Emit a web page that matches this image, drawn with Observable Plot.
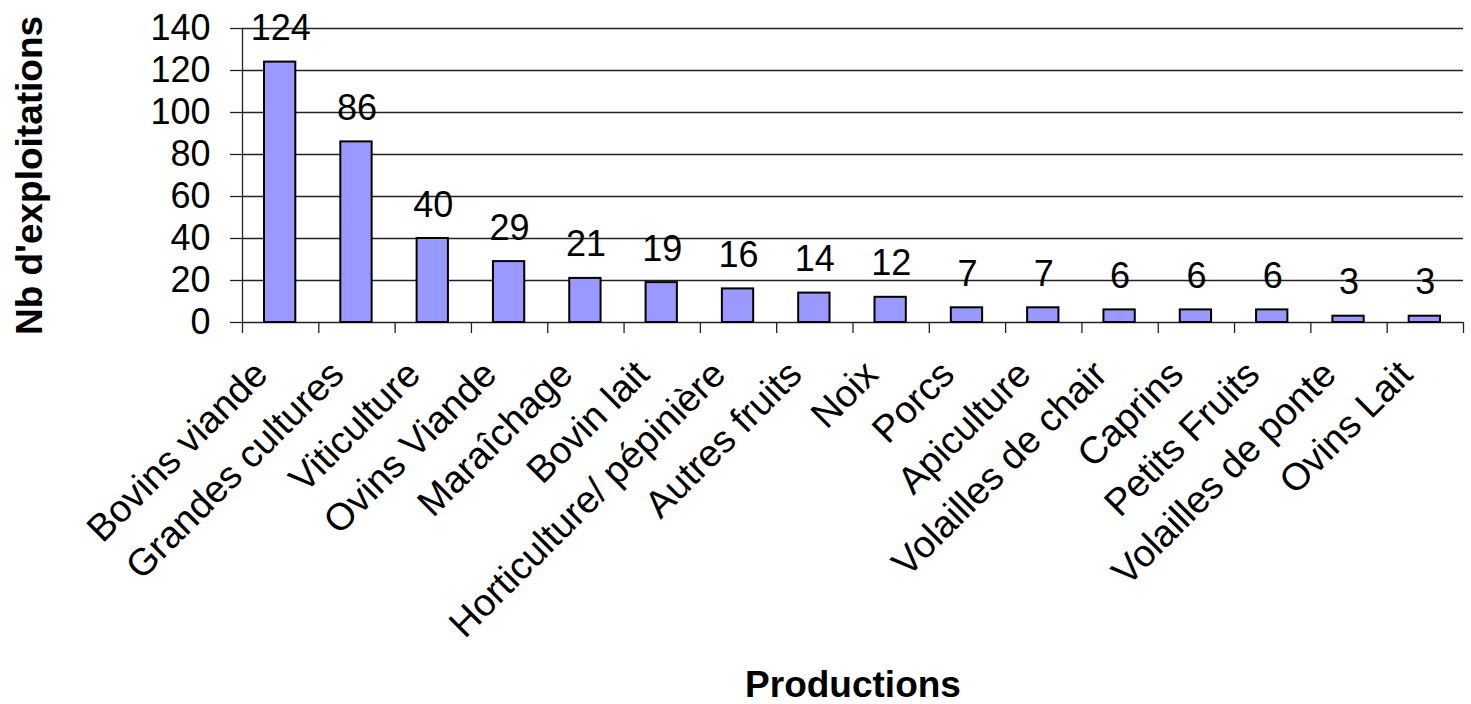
<!DOCTYPE html>
<html>
<head>
<meta charset="utf-8">
<script src="https://cdn.jsdelivr.net/npm/d3@7"></script>
<script src="https://cdn.jsdelivr.net/npm/@observablehq/plot@0.6"></script>
<style>
  html, body { margin: 0; padding: 0; background: #fff; }
  svg { font-family: "Liberation Sans", Arial, sans-serif; }
</style>
</head>
<body>
<div id="chart"></div>
<script>
const categories = ["Bovins viande", "Grandes cultures", "Viticulture", "Ovins Viande", "Maraîchage", "Bovin lait", "Horticulture/ pépinière", "Autres fruits", "Noix", "Porcs", "Apiculture", "Volailles de chair", "Caprins", "Petits Fruits", "Volailles de ponte", "Ovins Lait"];
const values = [124, 86, 40, 29, 21, 19, 16, 14, 12, 7, 7, 6, 6, 6, 3, 3];
const yTicks = [0, 20, 40, 60, 80, 100, 120, 140];
const yTitle = "Nb d'exploitations";
const xTitle = "Productions";

const data = categories.map((c, i) => ({ cat: c, i, value: values[i] }));
const font = "Liberation Sans, Arial, sans-serif";

const chart = Plot.plot({
  width: 1471,
  height: 704,
  marginTop: 28,
  marginBottom: 382,
  marginLeft: 242,
  marginRight: 8,
  style: { fontFamily: font, background: "#fff" },
  x: { domain: [0, categories.length], axis: null },
  y: { domain: [0, 140], axis: null },
  marks: [
    Plot.gridY(yTicks, { stroke: "#222", strokeOpacity: 1, strokeWidth: 1.3 }),
    Plot.axisY(yTicks, { tickSize: 12, tickPadding: 20, fontSize: 36, stroke: "#222", strokeWidth: 1.3, label: null, fill: "#000" }),
    Plot.axisX(d3.range(0, categories.length + 1), { tickSize: 11, tickFormat: () => "", stroke: "#222", strokeWidth: 1.3, label: null }),
    Plot.ruleX([0], { stroke: "#222", strokeWidth: 1.3 }),
    Plot.rectY(data, { x1: "i", x2: d => d.i + 1, y: "value", insetLeft: 22, insetRight: 23, fill: "#9999FF", stroke: "#000", strokeWidth: 2 }),
    Plot.text(data, { x: d => d.i + 0.5, y: "value", text: d => String(d.value), lineAnchor: "bottom", dy: -22, fontSize: 36, fill: "#000" }),
    Plot.text(data, { x: d => d.i + 0.5, y: () => 0, text: "cat", rotate: -45, textAnchor: "end", lineAnchor: "top", dx: -30, dy: 35, fontSize: 38, fill: "#000" }),
    Plot.text([yTitle], { frameAnchor: "left", text: d => d, rotate: -90, textAnchor: "middle", lineAnchor: "middle", dx: -212, fontSize: 37, fontWeight: "bold", fill: "#000" }),
    Plot.text([xTitle], { frameAnchor: "bottom", text: d => d, textAnchor: "middle", lineAnchor: "middle", dy: 363, fontSize: 37, fontWeight: "bold", fill: "#000" })
  ]
});
document.getElementById("chart").appendChild(chart);
</script>
</body>
</html>
